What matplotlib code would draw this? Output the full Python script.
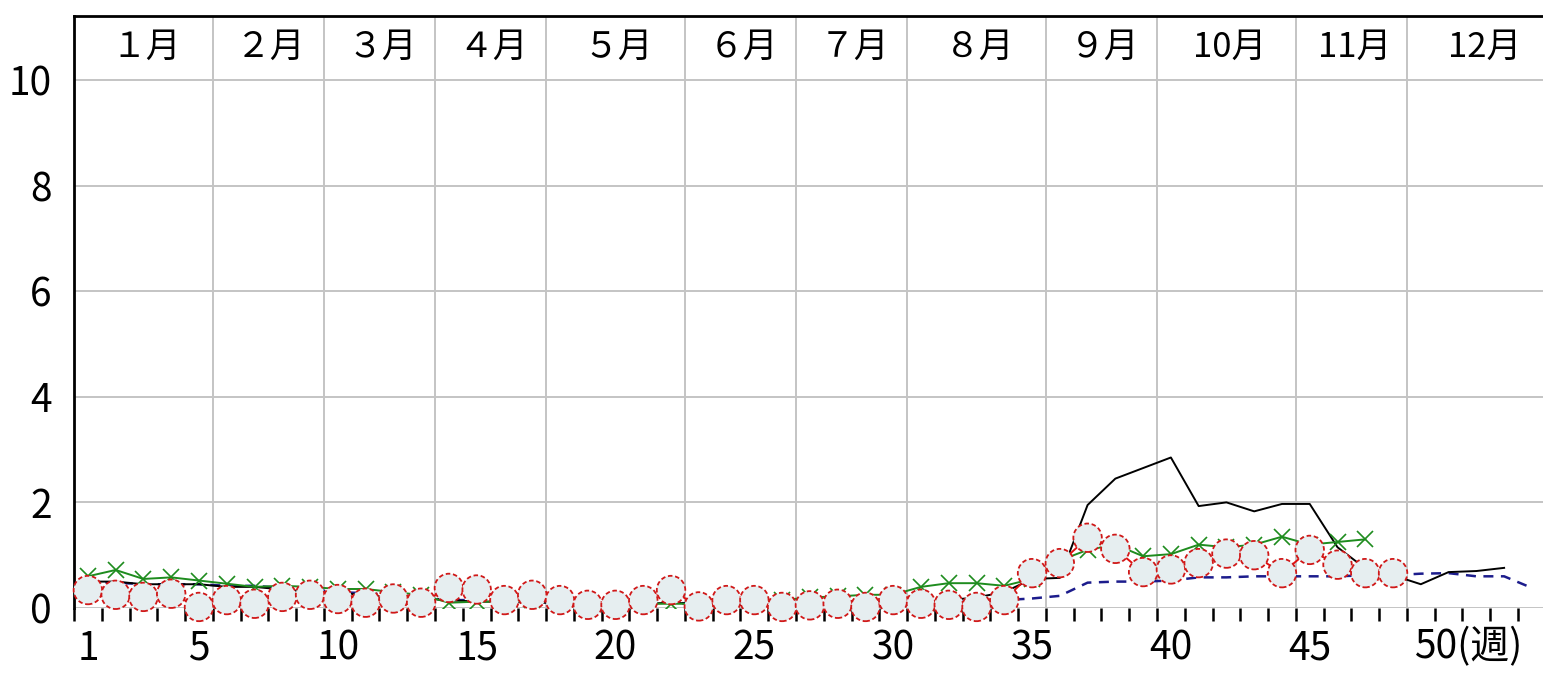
import matplotlib
matplotlib.use("Agg")
import matplotlib.pyplot as plt
import matplotlib.transforms as mtransforms

# weekly values
weeks_red = list(range(1, 49))
red_vals = [0.34, 0.25, 0.21, 0.27, 0.02, 0.15, 0.08, 0.21, 0.25, 0.17,
            0.10, 0.18, 0.10, 0.38, 0.35, 0.15, 0.25, 0.15, 0.06, 0.06,
            0.15, 0.34, 0.03, 0.15, 0.15, 0.02, 0.05, 0.08, 0.02, 0.15,
            0.08, 0.06, 0.02, 0.15, 0.66, 0.85, 1.33, 1.12, 0.68, 0.73,
            0.85, 1.03, 1.00, 0.66, 1.10, 0.82, 0.66, 0.66]

weeks_green = list(range(1, 48))
green_vals = [0.60, 0.72, 0.55, 0.58, 0.52, 0.46, 0.40, 0.42, 0.40, 0.36,
              0.36, 0.30, 0.25, 0.10, 0.12, 0.12, 0.15, 0.12, 0.10, 0.08,
              0.08, 0.08, 0.08, 0.12, 0.12, 0.15, 0.20, 0.22, 0.25, 0.25,
              0.40, 0.47, 0.47, 0.42, 0.55, 0.90, 1.10, 1.20, 0.98, 1.02,
              1.20, 1.15, 1.20, 1.35, 1.20, 1.25, 1.30]

weeks_black = list(range(1, 53))
black_vals = [0.50, 0.50, 0.45, 0.45, 0.45, 0.40, 0.40, 0.35, 0.30, 0.28,
              0.25, 0.20, 0.18, 0.15, 0.12, 0.12, 0.10, 0.10, 0.08, 0.08,
              0.08, 0.10, 0.08, 0.06, 0.05, 0.05, 0.05, 0.06, 0.08, 0.10,
              0.12, 0.15, 0.20, 0.30, 0.55, 0.57, 1.95, 2.45, 2.65, 2.85,
              1.93, 2.00, 1.83, 1.97, 1.97, 1.15, 0.75, 0.62, 0.45, 0.68,
              0.70, 0.76]

weeks_blue = list(range(1, 54))
blue_vals = [0.50, 0.48, 0.45, 0.45, 0.45, 0.42, 0.42, 0.38, 0.35, 0.30,
             0.28, 0.25, 0.20, 0.15, 0.15, 0.12, 0.12, 0.10, 0.10, 0.10,
             0.10, 0.10, 0.08, 0.08, 0.08, 0.08, 0.08, 0.10, 0.10, 0.10,
             0.12, 0.12, 0.12, 0.15, 0.18, 0.23, 0.48, 0.50, 0.50, 0.52,
             0.58, 0.58, 0.60, 0.60, 0.60, 0.60, 0.62, 0.62, 0.65, 0.66,
             0.60, 0.60, 0.38]

# months: label and last week of each month
month_labels = ["１月", "２月", "３月", "４月", "５月", "６月",
                "７月", "８月", "９月", "10月", "11月", "12月"]
month_end_week = [5, 9, 13, 17, 22, 26, 30, 35, 39, 44, 48, 53.4]

week_labels = [1, 5, 10, 15, 20, 25, 30, 35, 40, 45]
y_labels = [0, 2, 4, 6, 8, 10]

num_font = ["Noto Sans CJK JP", "DejaVu Sans"]
grid_col = "#c4c4c4"

fig = plt.figure(figsize=(15.43, 6.74), dpi=100)
ax = fig.add_axes([74 / 1543, 1 - 608 / 674, (1543 - 74) / 1543, (608 - 16) / 674])
ax.set_xlim(0.5, 53.4)
ax.set_ylim(0, 11.21)

# grid: month boundaries and every 2 units
for w in month_end_week[:-1]:
    ax.axvline(w + 0.5, color=grid_col, lw=1.4, zorder=0)
for y in y_labels:
    ax.axhline(y, color=grid_col, lw=1.4, zorder=0)

# lines
ax.plot(weeks_blue, blue_vals, color="#1c1c8c", lw=1.8, ls=(0, (4, 3)), zorder=2)
ax.plot(weeks_black, black_vals, color="black", lw=1.4, zorder=3)
ax.plot(weeks_green, green_vals, color="#1e8c1e", lw=1.4, marker="x",
        markersize=12, markeredgewidth=1.2, zorder=4)
ax.plot(weeks_red, red_vals, color="#e01010", lw=1.4, zorder=5)
ax.scatter(weeks_red, red_vals, s=420, facecolor="#e6eef0", edgecolor="#d01818",
           linewidths=1.3, linestyle=(0, (2.5, 1.5)), zorder=6, clip_on=False)

# month header
prev = 0
for lab, end in zip(month_labels, month_end_week):
    ax.text((prev + end) / 2 + 0.6, 10.62, lab, ha="center", va="center",
            fontsize=25, family=num_font)
    prev = end

# spines and ticks
for side in ["right", "bottom"]:
    ax.spines[side].set_visible(False)
ax.spines["top"].set_linewidth(2)
ax.spines["left"].set_linewidth(2)

ax.set_xticks([w + 0.5 for w in range(0, 53)])
ax.set_xticklabels([])
ax.tick_params(axis="x", which="major", direction="out", length=9,
               width=1.8, color="black")
ax.set_xticks(week_labels, minor=True)
ax.set_xticklabels([str(w) for w in week_labels], minor=True,
                   fontsize=28, family=num_font)
ax.tick_params(axis="x", which="minor", length=0, pad=15)
trans = mtransforms.blended_transform_factory(ax.transData, ax.transAxes)
ax.text(48.75, -0.033, "50(週)", transform=trans, ha="left", va="top",
        fontsize=28, family=num_font)

ax.set_yticks(y_labels)
ax.set_yticklabels([str(y) for y in y_labels], fontsize=28, family=num_font)
ax.tick_params(axis="y", length=0, pad=16)

fig.savefig("out.png", dpi=100)
